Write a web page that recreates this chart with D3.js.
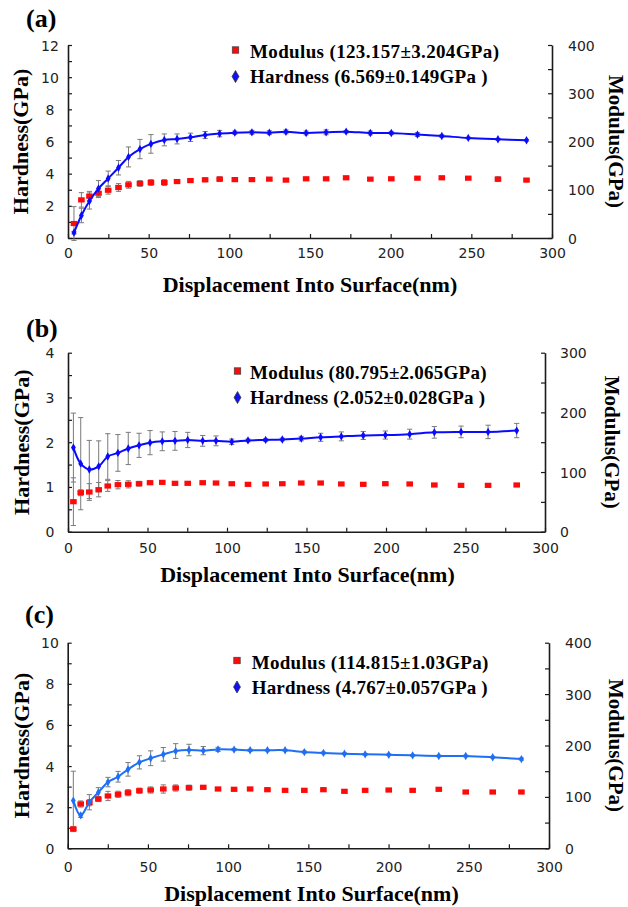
<!DOCTYPE html>
<html>
<head>
<meta charset="utf-8">
<script src="https://cdn.jsdelivr.net/npm/d3@7/dist/d3.min.js"></script>
<style>
  html, body { margin: 0; padding: 0; background: #fff; }
  svg { display: block; }
</style>
</head>
<body>
<svg id="chart" width="628" height="907"></svg>
<script>
// ---- Data: nanoindentation depth profiles ----
// (a)
const depthA = [3.7, 8.3, 13.3, 18.9, 24.9, 31.3, 37.5, 44.6, 51.4, 59.7, 67.6, 75.9, 85, 94, 103.4, 114, 124.8, 135.1, 147.6, 160, 172.4, 187.4, 200.4, 216.6, 231.7, 248.1, 266.5, 284.2];
const hardnessA = [0.33, 1.4, 2.3, 3.07, 3.7, 4.37, 5.04, 5.53, 5.85, 6.1, 6.16, 6.26, 6.4, 6.49, 6.55, 6.57, 6.55, 6.6, 6.53, 6.57, 6.61, 6.53, 6.53, 6.43, 6.34, 6.22, 6.14, 6.08];
const hardnessErrA = [0.08, 0.45, 0.5, 0.5, 0.46, 0.45, 0.62, 0.6, 0.58, 0.37, 0.31, 0.26, 0.22, 0.2, 0.1, 0.12, 0.12, 0.12, 0.12, 0.15, 0.08, 0.12, 0.1, 0.12, 0.08, 0.05, 0.05, 0.05];
const modulusA = [30, 79, 86.6, 92.8, 99, 104.7, 110.3, 113, 115, 115, 117, 119, 120.6, 122, 121, 121, 122, 120, 122.7, 122.7, 124.8, 122, 122.7, 124, 124.8, 124, 122, 120];
const modulusErrA = [35, 15, 10, 9, 8, 8, 7, 6, 6, 6, 4, 3, 4, 5, 4, 3, 3, 3, 3, 3, 3, 3, 3, 3, 3, 3, 5, 3];

// (b)
const depthB = [3.4, 8, 13.4, 19.3, 25, 31.4, 37.9, 44.7, 51.6, 59.3, 67.3, 75.3, 84.7, 93.1, 103, 113.2, 124.3, 134.8, 146.7, 158.9, 171.9, 185.7, 199.6, 214.9, 230.4, 247.2, 264.2, 282.2];
const hardnessB = [1.88, 1.52, 1.39, 1.46, 1.68, 1.76, 1.86, 1.93, 1.99, 2.02, 2.03, 2.05, 2.03, 2.03, 2.01, 2.04, 2.05, 2.06, 2.08, 2.11, 2.13, 2.15, 2.16, 2.18, 2.22, 2.23, 2.23, 2.26];
const hardnessErrB = [0.77, 1.03, 0.65, 0.57, 0.51, 0.41, 0.36, 0.27, 0.27, 0.21, 0.21, 0.17, 0.12, 0.11, 0.06, 0.03, 0.03, 0.03, 0.05, 0.09, 0.1, 0.09, 0.09, 0.11, 0.13, 0.13, 0.15, 0.16];
const modulusB = [50.3, 65.4, 66.5, 70.4, 76.6, 78.8, 79.4, 80.4, 82.1, 82.7, 81.1, 81.1, 82.1, 81.6, 80.4, 79.4, 80, 80.4, 81.6, 81.6, 80, 79.4, 80.4, 80, 78.3, 77.7, 77.7, 78.3];
const modulusErrB = [40, 5, 14, 12, 9, 7, 6, 4, 3, 3, 3, 2, 2, 2, 2, 2, 2, 2, 2, 2, 2, 2, 3, 2, 2, 2, 2, 2];

// (c)
const depthC = [3.5, 8.1, 13.5, 19.1, 25.1, 31.4, 37.6, 44.7, 51.7, 59.6, 67.3, 75.6, 84.5, 93.7, 103.7, 113.7, 124.5, 135.5, 147.5, 159.4, 172.5, 185.4, 200.1, 215, 231.3, 248.1, 264.9, 282.8];
const hardnessC = [2.32, 1.6, 2.24, 2.72, 3.22, 3.48, 3.84, 4.18, 4.38, 4.57, 4.73, 4.78, 4.75, 4.81, 4.8, 4.77, 4.77, 4.77, 4.68, 4.64, 4.6, 4.57, 4.55, 4.52, 4.49, 4.49, 4.43, 4.34];
const hardnessErrC = [1.43, 0.1, 0.37, 0.23, 0.23, 0.26, 0.33, 0.32, 0.36, 0.33, 0.36, 0.28, 0.2, 0.1, 0.05, 0.05, 0.04, 0.04, 0.05, 0.04, 0.04, 0.04, 0.04, 0.04, 0.04, 0.04, 0.04, 0.05];
const modulusC = [37.5, 86.2, 88.7, 95.9, 101.8, 105, 108.2, 112.1, 113.4, 115.4, 117.3, 117.9, 118.7, 115.4, 114.8, 115.4, 114, 112.8, 112.8, 114, 110.9, 112.8, 113.4, 112.8, 114.8, 109.5, 109.5, 109.5];
const modulusErrC = [5, 6, 6, 5, 9, 6, 6, 5, 6, 8, 6, 5, 3, 3, 3, 3, 3, 3, 3, 3, 3, 3, 3, 3, 3, 3, 3, 3];

// Legend texts
const panelTags = ["(a)", "(b)", "(c)"];
const modulusLabels = ["Modulus (123.157\u00b13.204GPa)", "Modulus (80.795\u00b12.065GPa)", "Modulus (114.815\u00b11.03GPa)"];
const hardnessLabels = ["Hardness (6.569\u00b10.149GPa )", "Hardness (2.052\u00b10.028GPa )", "Hardness (4.767\u00b10.057GPa )"];

// Axis ranges and ticks
const xTicks = d3.range(0, 301, 25);
const xLabelTicks = [0, 50, 100, 150, 200, 250, 300];
const hardnessMax = [12, 4, 10];
const hardnessStep = [1, 0.5, 1];
const hardnessLabelStep = [2, 1, 2];
const modulusMax = [400, 300, 400];

// ---- Layout ----
const SERIF = "'Liberation Serif','Times New Roman',serif";
const SANS = "'DejaVu Sans',Verdana,sans-serif";

const panels = [
  { depth: depthA, h: hardnessA, he: hardnessErrA, m: modulusA, me: modulusErrA,
    x0: 68, x1: 552, top: 45, bottom: 238, lineColor: "#0a0aff",
    tag: [26, 27], legend: [235.5, 50, 250, 57.5, 249, 237.5],
    yTitleX: 20, mTitleX: 616.5, xTitle: [310, 291.5], xLabY: 253, yLabX: 50, mLabOff: 16 },
  { depth: depthB, h: hardnessB, he: hardnessErrB, m: modulusB, me: modulusErrB,
    x0: 68, x1: 545, top: 352.7, bottom: 531.7, lineColor: "#0a0aff",
    tag: [26, 336.5], legend: [237.5, 371, 250, 378.5, 236.5, 235],
    yTitleX: 21.5, mTitleX: 612.5, xTitle: [307.5, 581.5], xLabY: 548, yLabX: 50, mLabOff: 15 },
  { depth: depthC, h: hardnessC, he: hardnessErrC, m: modulusC, me: modulusErrC,
    x0: 67.7, x1: 549, top: 642.7, bottom: 848.3, lineColor: "#1e6ff5",
    tag: [25, 623], legend: [237, 660.5, 251.7, 668.5, 236.6, 236],
    yTitleX: 21.5, mTitleX: 616, xTitle: [311.5, 901], xLabY: 866.5, yLabX: 50, mLabOff: 16 }
];

const svg = d3.select("#chart");

panels.forEach((p, i) => {
  const g = svg.append("g");
  const x = d3.scaleLinear().domain([0, 300]).range([p.x0, p.x1]);
  const yH = d3.scaleLinear().domain([0, hardnessMax[i]]).range([p.bottom, p.top]);
  const yM = d3.scaleLinear().domain([0, modulusMax[i]]).range([p.bottom, p.top]);

  const axisColor = "#1a1a1a";

  // Left axis (hardness), ticks pointing inward
  const hTicks = d3.range(0, hardnessMax[i] + 1e-9, hardnessStep[i]);
  const gl = g.append("g").attr("transform", `translate(${p.x0},0)`)
    .call(d3.axisLeft(yH).tickValues(hTicks).tickSizeInner(-4).tickSizeOuter(0)
      .tickFormat(d => (Math.abs(d / hardnessLabelStep[i] - Math.round(d / hardnessLabelStep[i])) < 1e-6) ? d : ""));
  gl.selectAll("text").attr("x", p.yLabX - p.x0).attr("text-anchor", "middle").attr("dy", "0.36em");

  // Right axis (modulus)
  const mTicks = d3.range(0, modulusMax[i] + 1, 50);
  const gr = g.append("g").attr("transform", `translate(${p.x1},0)`)
    .call(d3.axisRight(yM).tickValues(mTicks).tickSizeInner(-4).tickSizeOuter(0)
      .tickFormat(d => d % 100 === 0 ? d : ""));
  gr.selectAll("text").attr("x", p.mLabOff).attr("text-anchor", "start").attr("dy", "0.36em");

  // Bottom axis (depth)
  const gb = g.append("g").attr("transform", `translate(0,${p.bottom})`)
    .call(d3.axisBottom(x).tickValues(xTicks).tickSizeInner(-4).tickSizeOuter(0)
      .tickFormat(d => xLabelTicks.includes(d) ? d : ""));
  gb.selectAll("text").attr("y", p.xLabY - p.bottom).attr("dy", "0.36em");

  [gl, gr, gb].forEach(a => {
    a.select(".domain").attr("stroke", axisColor).attr("stroke-width", 1.6);
    a.selectAll(".tick line").attr("stroke", axisColor).attr("stroke-width", 1.2);
    a.selectAll("text").attr("font-family", SANS).attr("font-size", 14).attr("fill", "#222");
  });

  // Error bars (gray) for both series
  const errG = g.append("g").attr("stroke", "#7a7a7a").attr("stroke-width", 1);
  const cap = 2.6;
  const drawErr = (xs, vals, errs, scale) => {
    xs.forEach((d, k) => {
      const cx = x(d), y1 = scale(vals[k] - errs[k]), y2 = scale(vals[k] + errs[k]);
      errG.append("line").attr("x1", cx).attr("x2", cx).attr("y1", y1).attr("y2", y2);
      errG.append("line").attr("x1", cx - cap).attr("x2", cx + cap).attr("y1", y1).attr("y2", y1);
      errG.append("line").attr("x1", cx - cap).attr("x2", cx + cap).attr("y1", y2).attr("y2", y2);
    });
  };
  drawErr(p.depth, p.m, p.me, yM);
  drawErr(p.depth, p.h, p.he, yH);

  // Modulus: red squares
  g.append("g").selectAll("rect").data(p.depth.map((d, k) => [d, p.m[k]])).join("rect")
    .attr("x", d => x(d[0]) - 3.3).attr("y", d => yM(d[1]) - 2.6)
    .attr("width", 6.6).attr("height", 5.2).attr("fill", "#ff0a0a");

  // Hardness: smoothed line with small markers
  const pts = p.depth.map((d, k) => [d, p.h[k]]);
  g.append("path").datum(pts)
    .attr("d", d3.line().x(d => x(d[0])).y(d => yH(d[1])).curve(d3.curveCatmullRom.alpha(0.5)))
    .attr("fill", "none").attr("stroke", p.lineColor).attr("stroke-width", 2);
  g.append("g").selectAll("path").data(pts).join("path")
    .attr("transform", d => `translate(${x(d[0])},${yH(d[1])})`)
    .attr("d", d3.symbol(d3.symbolDiamond, 20))
    .attr("fill", p.lineColor);

  // Panel tag
  g.append("text").attr("x", p.tag[0]).attr("y", p.tag[1]).text(panelTags[i])
    .attr("font-family", SERIF).attr("font-weight", "bold").attr("font-size", 26).attr("fill", "#000");

  // Legend
  const [sx, sy, tx, ty, w1, w2] = p.legend;
  g.append("rect").attr("x", sx - 3.2).attr("y", sy - 3.2).attr("width", 6.4).attr("height", 6.4)
    .attr("fill", "#ff0a0a").attr("stroke", "#444").attr("stroke-width", 0.8);
  g.append("path").attr("transform", `translate(${sx},${sy + 26.5})`)
    .attr("d", d3.symbol(d3.symbolDiamond, 42)).attr("fill", "#1010f0").attr("stroke", "#333").attr("stroke-width", 0.7);
  g.append("text").attr("x", tx).attr("y", ty).text(modulusLabels[i])
    .attr("textLength", w1).attr("lengthAdjust", "spacing")
    .attr("font-family", SERIF).attr("font-weight", "bold").attr("font-size", 19).attr("fill", "#000");
  g.append("text").attr("x", tx).attr("y", ty + 25.5).text(hardnessLabels[i])
    .attr("textLength", w2).attr("lengthAdjust", "spacing")
    .attr("font-family", SERIF).attr("font-weight", "bold").attr("font-size", 19).attr("fill", "#000");

  // Axis titles
  const midY = (p.top + p.bottom) / 2;
  g.append("text").attr("transform", `translate(${p.yTitleX},${midY}) rotate(-90)`)
    .attr("text-anchor", "middle").attr("dy", "0.35em").text("Hardness(GPa)")
    .attr("font-family", SERIF).attr("font-weight", "bold").attr("font-size", 22).attr("fill", "#000");
  g.append("text").attr("transform", `translate(${p.mTitleX},${midY}) rotate(90)`)
    .attr("text-anchor", "middle").attr("dy", "0.35em").text("Modulus(GPa)")
    .attr("font-family", SERIF).attr("font-weight", "bold").attr("font-size", 21).attr("fill", "#000");
  g.append("text").attr("x", p.xTitle[0]).attr("y", p.xTitle[1]).attr("text-anchor", "middle")
    .text("Displacement Into Surface(nm)")
    .attr("font-family", SERIF).attr("font-weight", "bold").attr("font-size", 22).attr("fill", "#000");
});
</script>
</body>
</html>
